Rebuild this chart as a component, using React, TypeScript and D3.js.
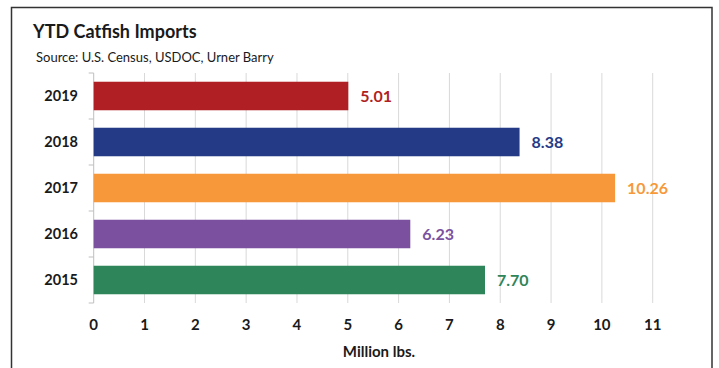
import React from "react";
import * as d3 from "d3";

const years = ["2019", "2018", "2017", "2016", "2015"];
const values = [5.01, 8.38, 10.26, 6.23, 7.7];
const colors = ["#B01F24", "#253A87", "#F7993A", "#7B519F", "#2E8559"];
const ticks = [0, 1, 2, 3, 4, 5, 6, 7, 8, 9, 10, 11];

const W = 719, H = 368;
const FONT = "Lato, 'Open Sans', sans-serif";

export default function App() {
  const x = d3.scaleLinear().domain([0, 11]).range([93.7, 652.7]);
  const y = d3.scaleBand().domain(years).range([73, 303]).paddingInner(0.38).paddingOuter(0.19);
  const band = d3.scaleBand().domain(years).range([73, 303]);
  return (
    <svg width={W} height={H} style={{ position: "absolute", left: 0, top: 0 }} fontFamily={FONT}>
      <rect x={0} y={0} width={W} height={H} fill="#fff" />
      <rect x={11.5} y={7.5} width={700.5} height={370} fill="none" stroke="#333" strokeWidth={1.5} />
      <text x={33} y={38} fontSize={18} fontWeight={700} fill="#1a1a1a">YTD Catfish Imports</text>
      <text x={36} y={62} fontSize={13} fill="#1a1a1a">Source: U.S. Census, USDOC, Urner Barry</text>
      {ticks.slice(1).map(t => (
        <line key={t} x1={x(t)} x2={x(t)} y1={73} y2={303} stroke="#d9d9d9" strokeWidth={1} />
      ))}
      <line x1={x(0)} x2={x(0)} y1={73} y2={303} stroke="#bfbfbf" strokeWidth={1} />
      {[...years.map(yr => band(yr)!), 303].map((v, i) => (
        <line key={i} x1={x(0) - 5} x2={x(0)} y1={v} y2={v} stroke="#bfbfbf" strokeWidth={1} />
      ))}
      {years.map((yr, i) => (
        <g key={yr}>
          <rect x={x(0)} y={y(yr)!} width={x(values[i]) - x(0)} height={y.bandwidth()} fill={colors[i]} />
          <text x={78} y={y(yr)! + y.bandwidth() / 2} dy="0.35em" textAnchor="end" fontSize={14.5} fontWeight={700} fill="#1a1a1a">{yr}</text>
          <text x={x(values[i]) + 12} y={y(yr)! + y.bandwidth() / 2} dy="0.35em" fontSize={16} fontWeight={700} fill={colors[i]}>{values[i].toFixed(2)}</text>
        </g>
      ))}
      {ticks.map(t => (
        <text key={t} x={x(t)} y={325} dy="0.35em" textAnchor="middle" fontSize={15} fontWeight={700} fill="#1a1a1a">{t}</text>
      ))}
      <text x={379} y={352} dy="0.35em" textAnchor="middle" fontSize={15} fontWeight={700} fill="#1a1a1a">Million lbs.</text>
    </svg>
  );
}
